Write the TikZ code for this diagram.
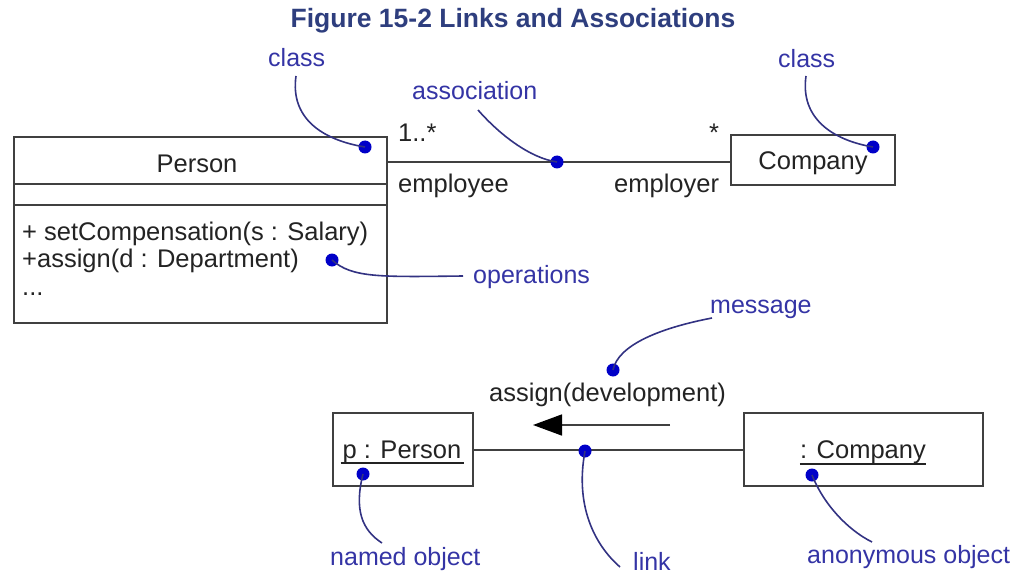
\documentclass[tikz,border=0pt]{standalone}
\usepackage{fontspec}
\setmainfont{Liberation Sans}
\usetikzlibrary{arrows.meta}
\definecolor{titleblue}{RGB}{46,62,126}
\definecolor{notetext}{RGB}{52,52,165}
\definecolor{notecurve}{RGB}{50,50,130}
\definecolor{notedot}{RGB}{0,0,200}
\definecolor{umlline}{RGB}{64,64,64}
\definecolor{umltext}{RGB}{35,35,35}
\begin{document}
\begin{tikzpicture}[x=1pt,y=-1pt,
  txt/.style={font=\fontsize{25.5}{27}\selectfont, text=umltext, inner sep=0pt},
  note/.style={font=\fontsize{25}{27}\selectfont, text=notetext, inner sep=0pt, anchor=base west},
  umlbox/.style={draw=umlline, line width=2pt, fill=white, inner sep=0pt},
  curve/.style={draw=notecurve, line width=1.6pt},
  notedotstyle/.style={circle, fill=notedot, inner sep=0pt, minimum size=13pt},
  conn/.style={draw=umlline, line width=2pt}]
\useasboundingbox (0,0) rectangle (1016,580);

% title
\node[font=\fontsize{26.5}{29}\selectfont\bfseries, text=titleblue, anchor=base, inner sep=0pt] (title) at (513,28) {Figure 15-2 Links and Associations};

% Person class
\node[umlbox, anchor=north west, minimum width=373pt, minimum height=186pt] (person) at (13,136) {};
\coordinate (c1) at (13,184);
\coordinate (c2) at (13,205);
\draw[conn] (c1) -- (c1 -| person.east);
\draw[conn] (c2) -- (c2 -| person.east);
\node[txt, anchor=base] (pname) at (197,172) {Person};
\node[txt, anchor=base west] (op1) at (22,240) {+ setCompensation(s : Salary)};
\node[txt, anchor=base west] (op2) at (22,267) {+assign(d : Department)};
\node[txt, anchor=base west] (op3) at (22,295) {...};

% Company class
\node[umlbox, minimum width=164pt, minimum height=50pt] (company) at (813,160) {};
\node[txt, anchor=base] (cname) at (813,170) {Company};

% association
\coordinate (assocL) at (386,162);
\draw[conn] (assocL) -- (assocL -| company.west);
\node[txt, anchor=base west] (m1) at (398,142) {1..*};
\node[txt, anchor=base west] (m2) at (709,142) {*};
\node[txt, anchor=base west] (r1) at (398,193) {employee};
\node[txt, anchor=base west] (r2) at (614,192) {employer};

% objects
\node[umlbox, anchor=north west, minimum width=140pt, minimum height=73pt] (pobj) at (332,412) {};
\node[txt, anchor=base] (pobjname) at (402,458) {p : Person};
\draw[umltext, line width=1.4pt] ([xshift=-2pt,yshift=-5pt]pobjname.base west) -- ([xshift=2pt,yshift=-5pt]pobjname.base east);
\node[umlbox, anchor=north west, minimum width=239pt, minimum height=73pt] (cobj) at (743,412) {};
\node[txt, anchor=base] (cobjname) at (863,458) {: Company};
\draw[umltext, line width=1.4pt] ([yshift=-6pt]cobjname.base west) -- ([yshift=-6pt]cobjname.base east);

% link
\draw[conn] (pobj.east) -- (cobj.west);
\node[txt, anchor=base west] (msg) at (489,401) {assign(development)};
\coordinate (arrR) at (670,425);
\coordinate (arrL) at (533,425);
\draw[draw=umlline, line width=1.6pt, -{Triangle[length=29pt,width=21pt,color=black,fill=black]}] (arrR) -- (arrL);

% notes
\node[note] (nclass1) at (268,67) {class};
\node[note] (nassoc) at (412,100) {association};
\node[note] (nclass2) at (778,68) {class};
\node[note] (nops) at (473,283) {operations};
\node[note] (nmsg) at (710,313) {message};
\node[note] (nnamed) at (330,565) {named object};
\node[note] (nlink) at (633,570) {link};
\node[note] (nanon) at (807,563) {anonymous object};

% dots
\node[notedotstyle] (d1) at (365,147) {};
\node[notedotstyle] (d2) at (557,162) {};
\node[notedotstyle] (d3) at (873,147) {};
\node[notedotstyle] (d4) at (332,260) {};
\node[notedotstyle] (d5) at (613,370) {};
\node[notedotstyle] (d6) at (363,474) {};
\node[notedotstyle] (d7) at (585,451) {};
\node[notedotstyle] (d8) at (812,475) {};

% note curves
\coordinate (e1) at (296,76);
\coordinate (e2) at (478,110);
\coordinate (e3) at (806,76);
\coordinate (e4) at (463,276);
\coordinate (e5) at (712,318);
\coordinate (e6) at (382,543);
\coordinate (e7) at (620,567);
\coordinate (e8) at (872,542);
\draw[curve] (e1) .. controls (290,118) and (322,140) .. (d1.center);
\draw[curve] (e2) .. controls (500,135) and (530,158) .. (d2.center);
\draw[curve] (e3) .. controls (800,118) and (832,140) .. (d3.center);
\draw[curve] (d4.center) .. controls (352,278) and (380,277) .. (e4);
\draw[curve] (e5) .. controls (660,328) and (618,345) .. (d5.center);
\draw[curve] (d6.center) .. controls (354,510) and (362,530) .. (e6);
\draw[curve] (d7.center) .. controls (574,510) and (598,548) .. (e7);
\draw[curve] (d8.center) .. controls (824,505) and (848,530) .. (e8);
\end{tikzpicture}
\end{document}
